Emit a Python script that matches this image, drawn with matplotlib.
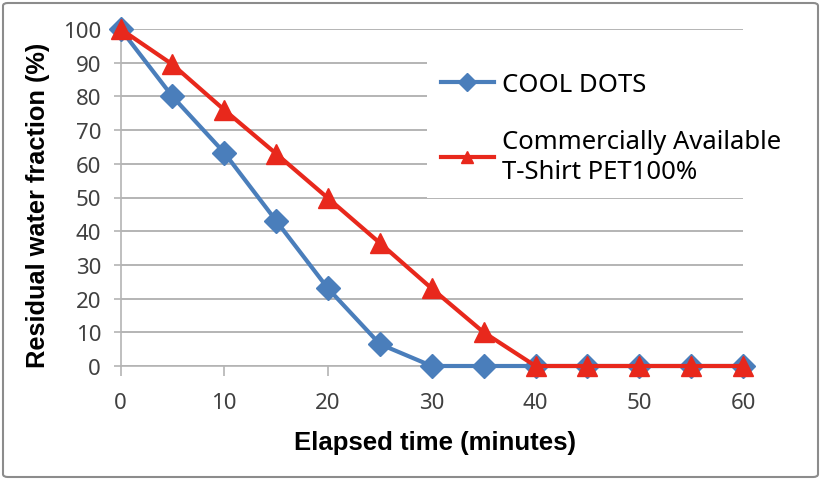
import matplotlib.pyplot as plt
from matplotlib.patches import FancyBboxPatch

# elapsed time (minutes)
minutes = [0, 5, 10, 15, 20, 25, 30, 35, 40, 45, 50, 55, 60]
# residual water fraction (%)
cool_dots = [100, 80, 63.3, 43.1, 23, 6.5, 0, 0, 0, 0, 0, 0, 0]
pet_shirt = [100, 89.5, 76, 63, 49.8, 36.5, 23, 10, 0, 0, 0, 0, 0]

x_ticks = [0, 10, 20, 30, 40, 50, 60]
y_ticks = [0, 10, 20, 30, 40, 50, 60, 70, 80, 90, 100]

BLUE = "#4a7ebb"
RED = "#e8281c"

fig = plt.figure(figsize=(8.21, 4.81), dpi=100)
ax = fig.add_axes([120.5 / 821, 1 - 367 / 481, (743 - 120.5) / 821, 337 / 481])

ax.plot(minutes, cool_dots, color=BLUE, lw=3, marker="D", ms=12,
        label="COOL DOTS", clip_on=False, zorder=3)
ax.plot(minutes, pet_shirt, color=RED, lw=3, marker="^", ms=15,
        label="Commercially Available\nT-Shirt PET100%", clip_on=False, zorder=4)

ax.set_xlim(0, 60)
ax.set_ylim(0, 100)
ax.set_xticks(x_ticks)
ax.set_yticks(y_ticks)
ax.grid(axis="y", color="#b4b4b4", lw=1.4)
ax.set_axisbelow(True)
for s in ["top", "right"]:
    ax.spines[s].set_visible(False)
for s in ["left", "bottom"]:
    ax.spines[s].set_color("#b4b4b4")
    ax.spines[s].set_linewidth(1.2)
ax.tick_params(axis="x", length=7, width=1.2, color="#b4b4b4", pad=12,
               labelsize=16, labelcolor="#404040")
ax.tick_params(axis="y", length=5, width=1.2, color="#b4b4b4", pad=9,
               labelsize=16, labelcolor="#404040")
for lab in ax.get_xticklabels() + ax.get_yticklabels():
    lab.set_fontfamily("Noto Sans")

fig.text(435 / 821, 1 - 443 / 481, "Elapsed time (minutes)", ha="center", va="center",
         fontsize=18.5, fontweight="bold", family="Liberation Sans")
fig.text(38 / 821, 1 - 205 / 481, "Residual water fraction (%)", ha="center", va="center",
         rotation=90, fontsize=18.3, fontweight="bold", family="Liberation Sans")

leg = ax.legend(loc="upper left", bbox_to_anchor=(427 / 821, 1 - 59 / 481),
                bbox_transform=fig.transFigure, frameon=True, fancybox=False,
                facecolor="white", edgecolor="none", framealpha=1,
                prop={"family": "Noto Sans", "size": 18.5}, handlelength=2.05,
                handletextpad=0.3, labelspacing=1.25, numpoints=1,
                borderpad=0.55, borderaxespad=0)
for t in leg.get_texts():
    t.set_linespacing(1.25)
for h in leg.legend_handles:
    h.set_markersize(9)

fig.patches.append(FancyBboxPatch((3 / 821, 3 / 481), 815 / 821, 474 / 481,
                                  boxstyle="round,pad=0,rounding_size=0.006",
                                  transform=fig.transFigure, fill=False,
                                  edgecolor="#8c8c8c", lw=1.5))

fig.savefig("out.png", dpi=100)
